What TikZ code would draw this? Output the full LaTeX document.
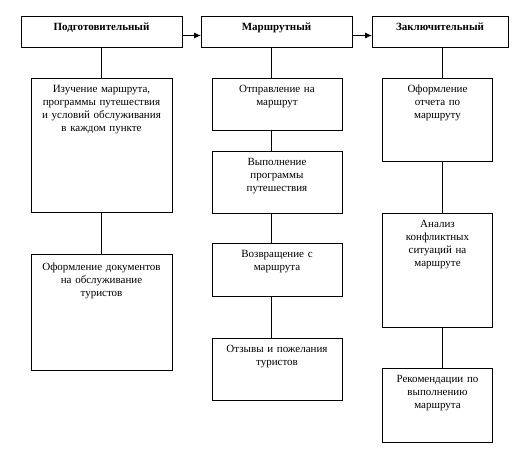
\documentclass[tikz,border=0pt]{standalone}
\usepackage{fontspec}
\setmainfont{Liberation Serif}
\usetikzlibrary{arrows.meta}
\tikzset{
	stage/.style 2 args={draw, line width=0.9pt, outer sep=0pt, inner xsep=0pt, inner ysep=0pt,
		anchor=north, align=center, text width=#1, text height=15pt, text depth=#2,
		font=\fontsize{11}{13}\selectfont},
	phase/.style 2 args={stage={#1}{#2}, font=\fontsize{11}{13}\selectfont\bfseries},
	link/.style={line width=0.9pt}
}

\begin{document}
\begin{tikzpicture}[x=1pt,y=-1pt]
	\useasboundingbox (0,0) rectangle (531,454);

	% stages
	\node[phase={161}{16}] (podg)  at (101.5,16) {Подготовительный};
	\node[phase={151}{16}] (marsh) at (276.5,16) {Маршрутный};
	\node[phase={136}{16}] (zakl)  at (440,16)   {Заключительный};

	% first column
	\node[stage={141}{119}] (izuch) at (101.5,78) {Изучение маршрута,\\программы путешествия\\и условий обслуживания\\в каждом пункте};
	\node[stage={141}{99}, text height=17pt] (oformdoc) at (101.5,254) {Оформление документов\\на обслуживание\\туристов};

	% second column
	\node[stage={130}{37}] (otpr)   at (277,78)  {Отправление на\\маршрут};
	\node[stage={130}{47}] (vypoln) at (277,151) {Выполнение\\программы\\путешествия};
	\node[stage={130}{38}] (vozvr)  at (277,243) {Возвращение с\\маршрута};
	\node[stage={130}{47}] (otzyv)  at (277,338) {Отзывы и пожелания\\туристов};

	% third column
	\node[stage={110}{68}] (otchet) at (437.5,78)  {Оформление\\отчета по\\маршруту};
	\node[stage={110}{99}] (analiz) at (437.5,213) {Анализ\\конфликтных\\ситуаций на\\маршруте};
	\node[stage={110}{59}] (rekom)  at (437.5,368) {Рекомендации по\\выполнению\\маршрута};

	% connectors
	\draw[link,-{Latex[length=7pt,width=6pt]}] ([yshift=-4pt]podg.east) -- ([yshift=-4pt]marsh.west);
	\draw[link,-{Latex[length=7pt,width=6pt]}] ([yshift=-4pt]marsh.east) -- ([yshift=-4pt]zakl.west);

	\draw[link] (podg) -- (izuch);
	\draw[link] (izuch) -- (oformdoc);

	\draw[link] ([xshift=-5pt]marsh.south) -- ([xshift=-5.5pt]otpr.north);
	\draw[link] ([xshift=-5.5pt]otpr.south) -- ([xshift=-5.5pt]vypoln.north);
	\draw[link] ([xshift=-5.5pt]vypoln.south) -- ([xshift=-5.5pt]vozvr.north);
	\draw[link] ([xshift=-5.5pt]vozvr.south) -- ([xshift=-5.5pt]otzyv.north);

	\draw[link] ([xshift=2pt]zakl.south) -- ([xshift=4.5pt]otchet.north);
	\draw[link] ([xshift=4.5pt]otchet.south) -- ([xshift=4.5pt]analiz.north);
	\draw[link] ([xshift=5pt]analiz.south) -- ([xshift=5pt]rekom.north);
\end{tikzpicture}
\end{document}
